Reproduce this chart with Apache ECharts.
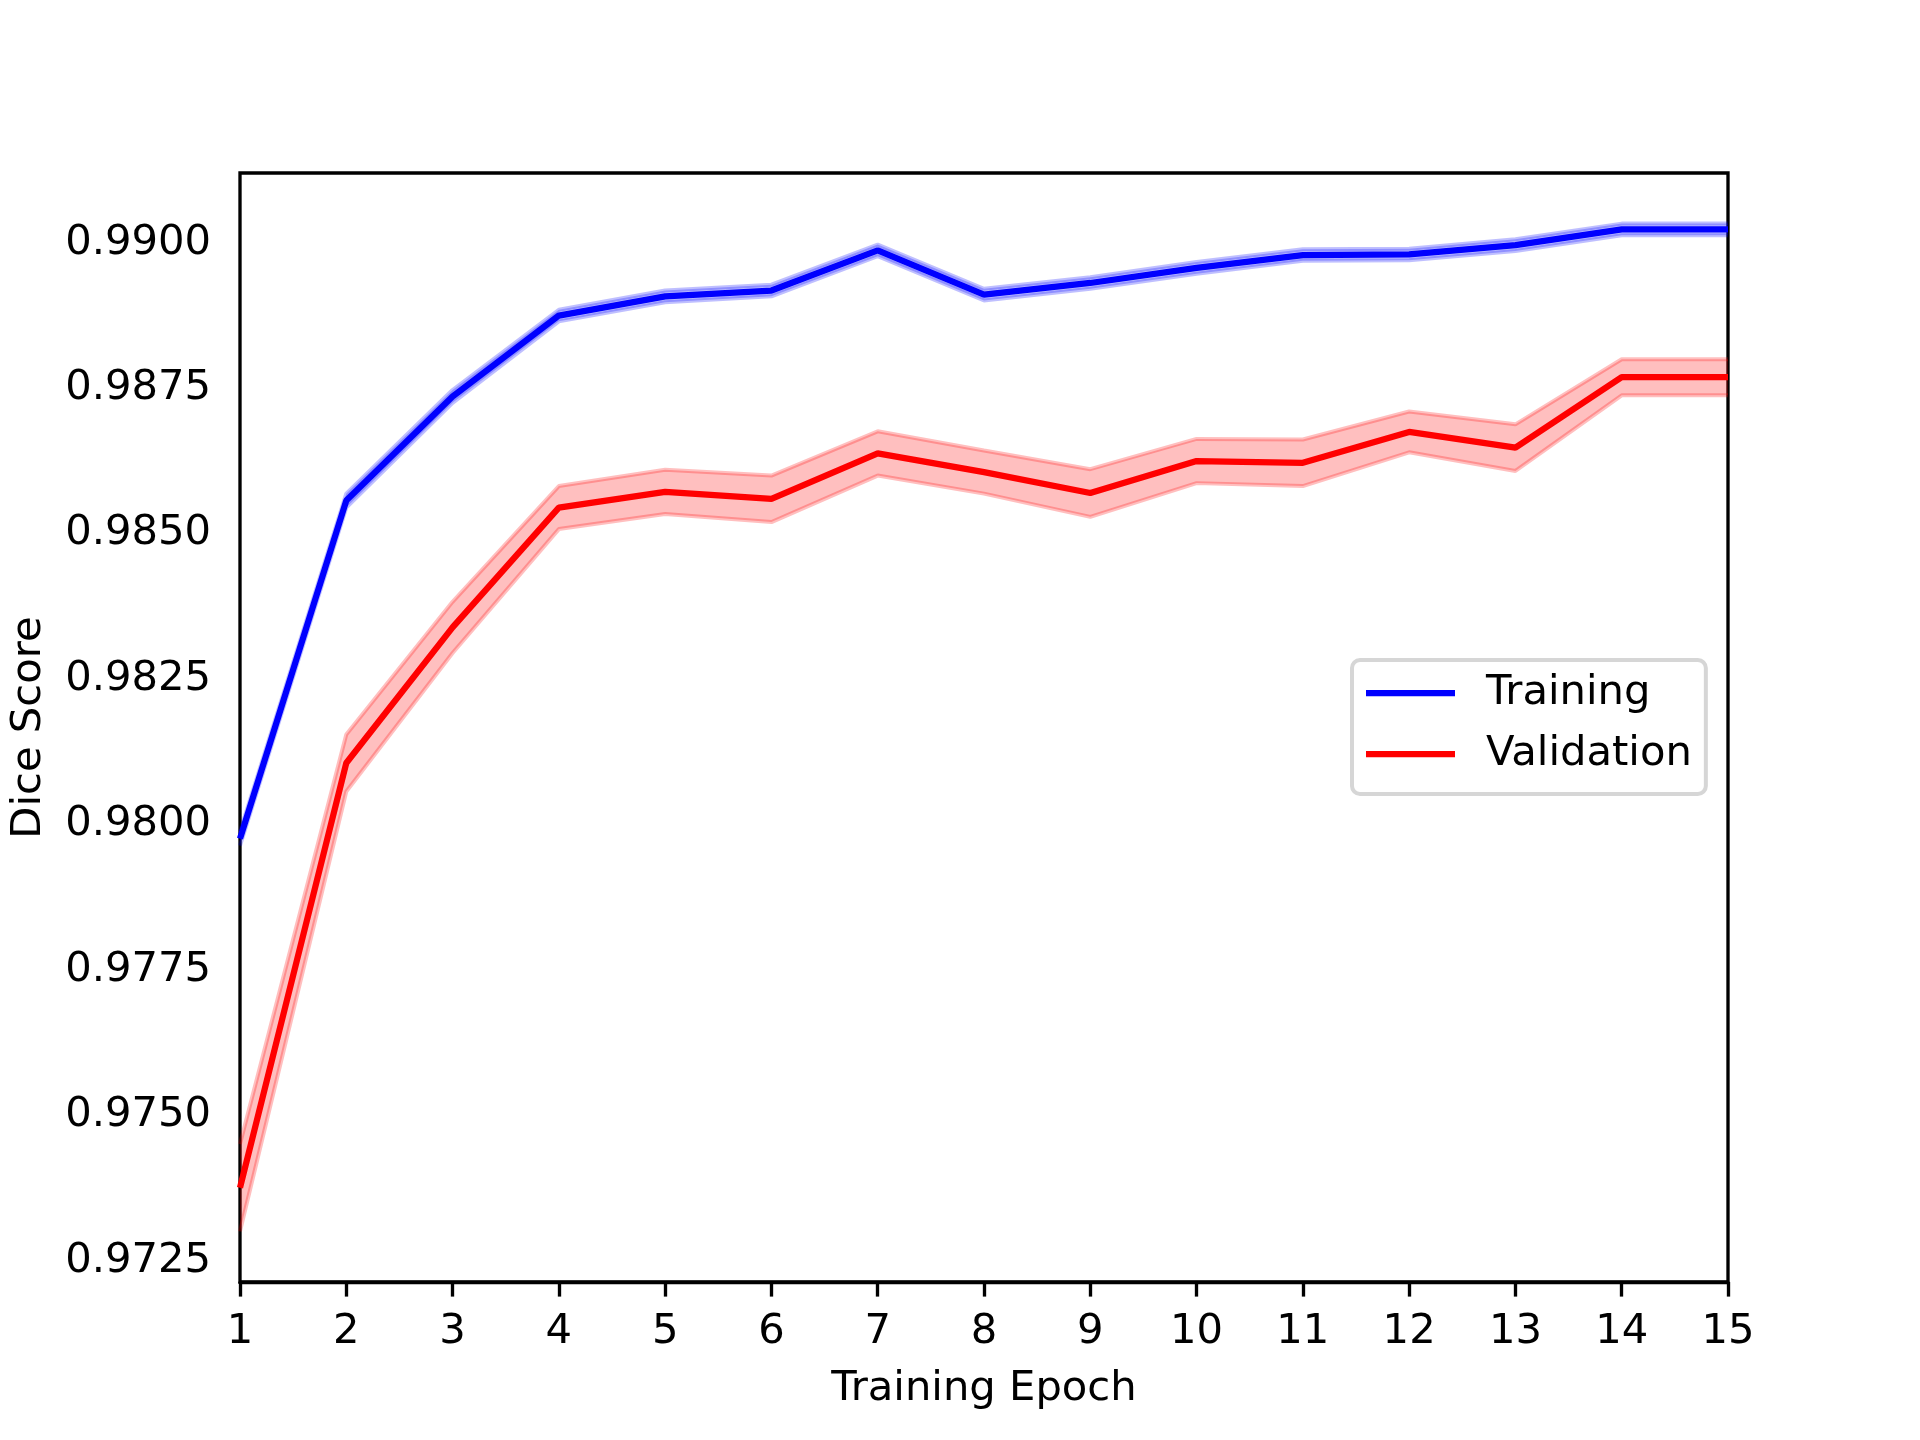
<!DOCTYPE html>
<html>
<head>
<meta charset="utf-8">
<title>Dice Score</title>
<script src="https://cdn.jsdelivr.net/npm/echarts@6/dist/echarts.min.js"></script>
<style>
  html, body { margin: 0; padding: 0; background: #fff; }
  #chart { width: 1920px; height: 1440px; }
</style>
</head>
<body>
<div id="chart"></div>
<script>
// epochs and values
const epochs = ['1', '2', '3', '4', '5', '6', '7', '8', '9', '10', '11', '12', '13', '14', '15'];
const trainMean = [0.97968, 0.98549, 0.98728, 0.98867, 0.98900, 0.98910, 0.98979, 0.98903, 0.98923, 0.98949, 0.98971, 0.98972, 0.98988, 0.99015, 0.99015];
const trainSpread = [0.00012, 0.00012, 0.00011, 0.0001, 0.0001, 0.0001, 0.0001, 0.0001, 0.0001, 0.0001, 0.0001, 0.0001, 0.0001, 0.0001, 0.0001];
const valMean = [0.97368, 0.98098, 0.98331, 0.98537, 0.98564, 0.98552, 0.98630, 0.98598, 0.98562, 0.98617, 0.98614, 0.98667, 0.98640, 0.98761, 0.98761];
const valSpread = [0.00075, 0.00049, 0.00044, 0.00037, 0.00038, 0.0004, 0.00038, 0.00037, 0.00041, 0.00038, 0.0004, 0.00035, 0.0004, 0.00031, 0.00031];
const yTicks = [0.9725, 0.975, 0.9775, 0.98, 0.9825, 0.985, 0.9875, 0.99];

const FONT = 'DejaVu Sans';
const FS = 41.7; // 10pt at 300dpi

const chart = echarts.init(document.getElementById('chart'));

// mean line
function meanLine(name, mean, color) {
  return {
    name: name,
    type: 'line',
    z: 5,
    symbol: 'none',
    lineStyle: { color: color, width: 6.25 },
    itemStyle: { color: color },
    data: mean
  };
}

// shaded band = lower edge + stacked (upper - lower)
function band(id, mean, spread, rgba) {
  return [
    {
      name: id + '_low',
      type: 'line',
      stack: id,
      z: 2,
      symbol: 'none',
      lineStyle: { color: rgba, width: 4 },
      data: mean.map((m, i) => m - spread[i])
    },
    {
      name: id + '_high',
      type: 'line',
      stack: id,
      z: 2,
      symbol: 'none',
      lineStyle: { color: rgba, width: 4 },
      areaStyle: { color: rgba, opacity: 1 },
      data: spread.map(s => 2 * s)
    }
  ];
}

const option = {
  animation: false,
  backgroundColor: '#fff',
  textStyle: { fontFamily: FONT },
  grid: {
    left: 240, top: 173, width: 1488, height: 1109,
    show: true, borderColor: '#000', borderWidth: 3.33,
    backgroundColor: 'transparent'
  },
  legend: {
    orient: 'vertical',
    left: 1352, top: 660,
    data: [
      { name: 'Training', icon: 'rect' },
      { name: 'Validation', icon: 'rect' }
    ],
    itemWidth: 89, itemHeight: 6.25, itemGap: 9,
    padding: [7, 14, 14, 14],
    borderColor: '#d6d6d6', borderWidth: 4, borderRadius: 8,
    backgroundColor: 'rgba(255,255,255,0.8)',
    textStyle: { fontFamily: FONT, fontSize: FS, color: '#000', lineHeight: 48, padding: [4, 0, 0, 26] }
  },
  xAxis: {
    type: 'category',
    boundaryGap: false,
    data: epochs,
    name: 'Training Epoch',
    nameLocation: 'middle',
    nameGap: 86,
    nameTextStyle: { fontFamily: FONT, fontSize: FS, color: '#000' },
    axisLine: { onZero: false, lineStyle: { color: '#000', width: 3.33 } },
    axisTick: { length: 14.6, lineStyle: { color: '#000', width: 3.33 } },
    axisLabel: { margin: 29, fontFamily: FONT, fontSize: FS, color: '#000', interval: 0 },
    splitLine: { show: false }
  },
  yAxis: {
    type: 'value',
    min: 0.97206, max: 0.99112,
    name: 'Dice Score',
    nameLocation: 'middle',
    nameRotate: 90,
    nameGap: 190,
    nameTextStyle: { fontFamily: FONT, fontSize: FS, color: '#000' },
    axisLine: { onZero: false, lineStyle: { color: '#000', width: 3.33 } },
    axisTick: { length: 14.6, customValues: yTicks, lineStyle: { color: '#000', width: 3.33 } },
    axisLabel: {
      margin: 29, color: '#000',
      customValues: yTicks,
      formatter: v => '{t|' + v.toFixed(4) + '}',
      rich: {
        t: { fontFamily: FONT, fontSize: FS, color: '#000', padding: [9, 0, 0, 0] }
      }
    },
    splitLine: { show: false }
  },
  series: [
    ...band('trainBand', trainMean, trainSpread, 'rgba(0,0,255,0.25)'),
    ...band('valBand', valMean, valSpread, 'rgba(255,0,0,0.25)'),
    meanLine('Training', trainMean, '#0000ff'),
    meanLine('Validation', valMean, '#ff0000')
  ]
};

chart.setOption(option);
</script>
</body>
</html>
